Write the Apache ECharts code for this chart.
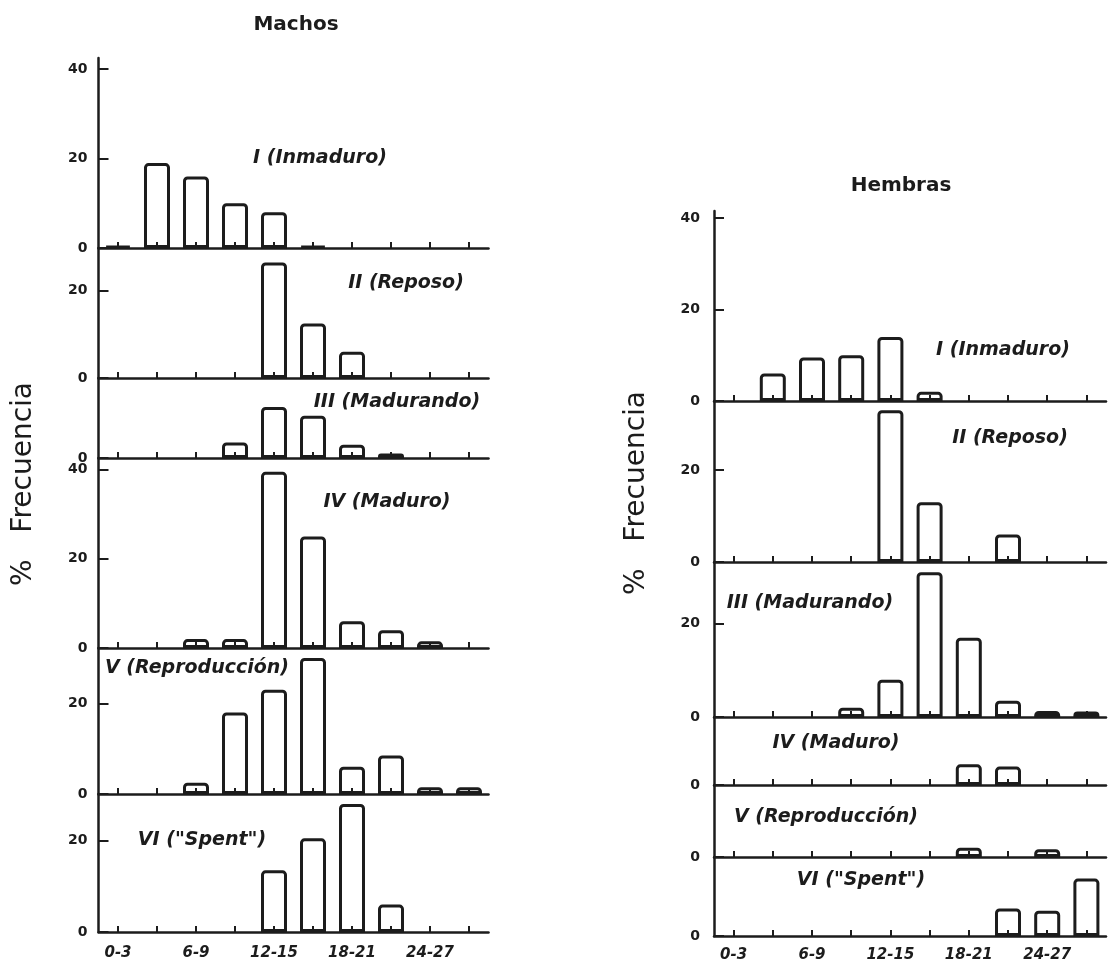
<!DOCTYPE html>
<html><head><meta charset="utf-8">
<script src="https://cdn.jsdelivr.net/npm/echarts@6/dist/echarts.min.js"></script>
<style>html,body{margin:0;padding:0;background:#fff}#c{width:1108px;height:959px}</style>
</head><body><div id="c"></div><script>
// ---- data ----
const categories = ['0-3','3-6','6-9','9-12','12-15','15-18','18-21','21-24','24-27','27-30'];
const tickLabels = ['0-3','6-9','12-15','18-21','24-27'];
const stageNames = ['I (Inmaduro)','II (Reposo)','III (Madurando)','IV (Maduro)','V (Reproducción)','VI ("Spent")'];
const sexTitles = ['Machos','Hembras'];
const yAxisTitle = '%   Frecuencia';
const yTickValues = [0, 20, 40];

const machosI   = [0.5, 19, 16, 10, 8, 0.5, 0, 0, 0, 0];
const machosII  = [0, 0, 0, 0, 26.5, 12.5, 6, 0, 0, 0];
const machosIII = [0, 0, 0, 3.5, 11.5, 9.5, 3, 1, 0, 0];
const machosIV  = [0, 0, 2, 2, 39.5, 25, 6, 4, 1.5, 0];
const machosV   = [0, 0, 2.5, 18, 23, 30, 6, 8.5, 1.5, 1.5];
const machosVI  = [0, 0, 0, 0, 13.5, 20.5, 28, 6, 0, 0];

const hembrasI   = [0, 6, 9.5, 10, 14, 2, 0, 0, 0, 0];
const hembrasII  = [0, 0, 0, 0, 33, 13, 0, 6, 0, 0];
const hembrasIII = [0, 0, 0, 2, 8, 31, 17, 3.5, 1.3, 1.2];
const hembrasIV  = [0, 0, 0, 0, 0, 0, 4.5, 4, 0, 0];
const hembrasV   = [0, 0, 0, 0, 0, 0, 2, 0, 1.7, 0];
const hembrasVI  = [0, 0, 0, 0, 0, 0, 0, 6, 5.5, 12.5];

// ---- layout (positions / scales only) ----
const ink = '#1c1c1c';
const FONT = '"DejaVu Sans", sans-serif';
const sides = [
  { left: 98.5, width: 390, labelMargin: 11, xLabelMargin: 14,
    title: { x: 296, y: 25 }, yTitle: { x: 24, y: 484 },
    panels: [
      { data: machosI,   top: 58,  bottom: 248, max: 42.5, lx: 320, ly: 158 },
      { data: machosII,  top: 248, bottom: 378, max: 29.8, lx: 406, ly: 283 },
      { data: machosIII, top: 378, bottom: 458, max: 18.0, lx: 397, ly: 402 },
      { data: machosIV,  top: 458, bottom: 648, max: 42.6, lx: 387, ly: 502 },
      { data: machosV,   top: 648, bottom: 794, max: 32.2, lx: 197, ly: 668 },
      { data: machosVI,  top: 794, bottom: 932, max: 30.2, lx: 202, ly: 840 }
    ] },
  { left: 714, width: 392, labelMargin: 14, xLabelMargin: 12,
    title: { x: 901, y: 186 }, yTitle: { x: 637, y: 493 },
    panels: [
      { data: hembrasI,   top: 211, bottom: 401, max: 41.5, lx: 1003, ly: 350 },
      { data: hembrasII,  top: 401, bottom: 562, max: 35.0, lx: 1010, ly: 438 },
      { data: hembrasIII, top: 562, bottom: 717, max: 33.2, lx: 810,  ly: 603 },
      { data: hembrasIV,  top: 717, bottom: 785, max: 14.8, lx: 836,  ly: 743 },
      { data: hembrasV,   top: 785, bottom: 857, max: 15.6, lx: 826,  ly: 817 },
      { data: hembrasVI,  top: 857, bottom: 936, max: 17.2, lx: 861,  ly: 880 }
    ] }
];

const grid = [], xAxis = [], yAxis = [], series = [], graphic = [];
let gi = 0;
sides.forEach((side, si) => {
  graphic.push({
    type: 'text', x: side.title.x, y: side.title.y, z: 10,
    style: { text: sexTitles[si], fill: ink, fontSize: 20, fontWeight: 'bold', fontFamily: FONT,
      textAlign: 'center', textVerticalAlign: 'middle', align: 'center', verticalAlign: 'middle' }
  });
  graphic.push({
    type: 'text', x: side.yTitle.x, y: side.yTitle.y, rotation: Math.PI / 2, z: 10,
    style: { text: yAxisTitle, fill: ink, fontSize: 28, fontFamily: FONT,
      textAlign: 'center', textVerticalAlign: 'middle', align: 'center', verticalAlign: 'middle' }
  });
  side.panels.forEach((p, pi) => {
    const last = pi === side.panels.length - 1;
    grid.push({ left: side.left, width: side.width, top: p.top, height: p.bottom - p.top,
      outerBoundsMode: 'none', containLabel: false });
    const ticks = yTickValues.filter(v => v <= p.max);
    xAxis.push({
      type: 'category', gridIndex: gi, data: categories, boundaryGap: true,
      axisLine: { show: true, lineStyle: { color: ink, width: 2.5 } },
      axisTick: { show: true, inside: true, length: 6, interval: 0, alignWithLabel: true,
        lineStyle: { color: ink, width: 2 } },
      axisLabel: { show: last, interval: 0, margin: side.xLabelMargin, color: ink,
        fontSize: 15, fontWeight: 'bold', fontStyle: 'italic', fontFamily: FONT,
        formatter: v => tickLabels.includes(v) ? v : '' },
      splitLine: { show: false }
    });
    yAxis.push({
      type: 'value', gridIndex: gi, min: 0, max: p.max,
      axisLine: { show: true, onZero: false, lineStyle: { color: ink, width: 2.5 } },
      axisTick: { show: true, inside: true, length: 10, customValues: ticks,
        lineStyle: { color: ink, width: 2 } },
      axisLabel: { show: true, customValues: ticks, margin: side.labelMargin, color: ink,
        fontSize: 14, fontWeight: 'bold', fontFamily: FONT },
      splitLine: { show: false }
    });
    series.push({
      type: 'bar', xAxisIndex: gi, yAxisIndex: gi, barWidth: 26,
      data: p.data.map(v => v === 0 ? '-' : v),
      itemStyle: { color: 'rgba(255,255,255,0)', borderColor: ink, borderWidth: 3, borderRadius: [3, 3, 0, 0] },
      emphasis: { disabled: true }, silent: true, animation: false
    });
    graphic.push({
      type: 'text', x: p.lx, y: p.ly, z: 10,
      style: { text: stageNames[pi], fill: ink, fontSize: 19, fontWeight: 'bold', fontStyle: 'italic', fontFamily: FONT,
        textAlign: 'center', textVerticalAlign: 'middle', align: 'center', verticalAlign: 'middle' }
    });
    gi++;
  });
});

const chart = echarts.init(document.getElementById('c'), null, { renderer: 'canvas' });
chart.setOption({ backgroundColor: '#ffffff', animation: false, grid, xAxis, yAxis, series, graphic });
</script></body></html>
